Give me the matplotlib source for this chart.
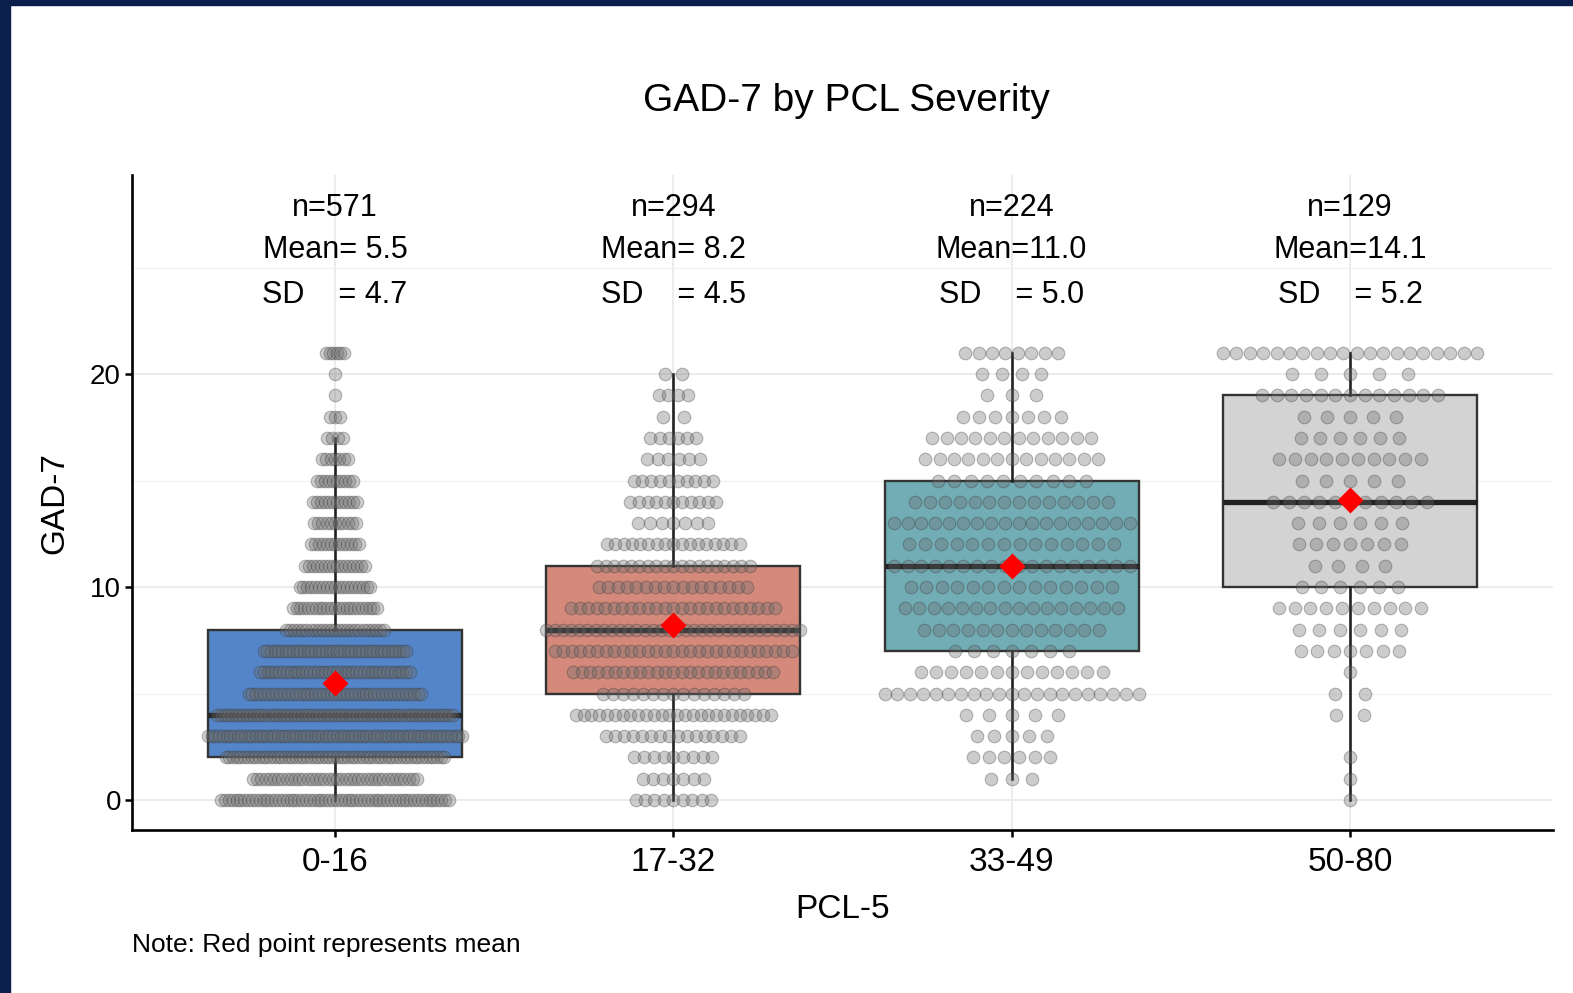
import numpy as np
import matplotlib.pyplot as plt
from matplotlib.patches import Rectangle

plt.rcParams['font.family'] = ['Liberation Sans', 'DejaVu Sans']

# Grupos de severidad PCL-5 y puntajes posibles de GAD-7 (0 a 21)
grupos = ["0-16", "17-32", "33-49", "50-80"]
niveles = np.arange(22)

# Cantidad de participantes en cada puntaje GAD-7, por grupo
conteo_0_16 = [60, 40, 60, 70, 65, 45, 40, 40, 25, 23, 19, 16, 13, 11, 12, 10, 7, 4, 3, 1, 1, 6]
conteo_17_32 = [9, 7, 9, 16, 26, 15, 25, 29, 32, 25, 17, 19, 17, 7, 11, 10, 6, 6, 2, 4, 2, 0]
conteo_33_49 = [0, 3, 6, 5, 5, 21, 13, 7, 13, 16, 14, 18, 14, 18, 14, 10, 13, 12, 7, 3, 4, 8]
conteo_50_80 = [1, 1, 1, 0, 2, 2, 1, 7, 6, 10, 6, 4, 7, 6, 11, 5, 10, 6, 5, 13, 5, 20]
conteos = [conteo_0_16, conteo_17_32, conteo_33_49, conteo_50_80]

# Resumen que se muestra sobre cada caja
n_grupo = [571, 294, 224, 129]
medias = [5.5, 8.2, 11.0, 14.1]
desvios = [4.7, 4.5, 5.0, 5.2]

colores = ['#5385c8', '#d4897b', '#72adb5', '#d3d3d3']

fig = plt.figure(figsize=(15.73, 9.93), dpi=100)
ax = fig.add_axes([132 / 1573, 163 / 993, 1421 / 1573, 655 / 993])

# Marco azul oscuro arriba y a la izquierda
fig.patches.append(Rectangle((0, 1 - 5 / 993), 1, 5 / 993, transform=fig.transFigure,
                             color='#0a1f4b', zorder=10))
fig.patches.append(Rectangle((0, 0), 10 / 1573, 1, transform=fig.transFigure,
                             color='#0a1f4b', zorder=10))

posiciones = np.arange(1, len(grupos) + 1)
datos = [np.repeat(niveles, c) for c in conteos]

cajas = ax.boxplot(datos, positions=posiciones, widths=0.75, patch_artist=True,
                   showfliers=False, showcaps=False, whis=1.5,
                   boxprops=dict(edgecolor='#333333', linewidth=1.7),
                   whiskerprops=dict(color='#222222', linewidth=1.9),
                   medianprops=dict(color='#222222', linewidth=3.8),
                   zorder=2)
for caja, color in zip(cajas['boxes'], colores):
    caja.set_facecolor(color)

# Puntos distribuidos horizontalmente segun la densidad de cada fila
for pos, conteo in zip(posiciones, conteos):
    c = np.array(conteo, dtype=float)
    dens = np.array([np.sum(c * np.exp(-(j - niveles) ** 2 / (2 * 0.5 ** 2))) for j in niveles])
    # en los extremos la fila no pierde ancho por falta de vecinos
    dens[0] = max(dens[0], c[0] * 1.3)
    xs, ys = [], []
    for nivel, k, d in zip(niveles, conteo, dens):
        if k == 0:
            continue
        ancho = 0.375 * min(d / dens.max(), 1.0)
        if k == 1:
            xs.append(pos)
        else:
            xs.extend(pos + np.linspace(-ancho, ancho, k))
        ys.extend([nivel] * k)
    ax.scatter(xs, ys, s=82, facecolor='#6c6c6c', edgecolor='#383838',
               linewidth=0.8, alpha=0.34, zorder=3)

# Media de cada grupo
ax.scatter(posiciones, medias, marker='D', s=175, color='red', linewidth=0, zorder=5)

for pos, n, m, sd in zip(posiciones, n_grupo, medias, desvios):
    ax.text(pos, 27.82, f"n={n}", ha='center', va='center', fontsize=22)
    ax.text(pos, 25.85, f"Mean={m:4.1f}", ha='center', va='center', fontsize=22)
    ax.text(pos, 23.72, f"SD    ={sd:4.1f}", ha='center', va='center', fontsize=22)

ax.set_xlim(0.4, 4.6)
ax.set_ylim(-1.41, 29.35)
ax.set_xticks(posiciones)
ax.set_xticklabels(grupos)
ax.set_yticks([0, 10, 20])
ax.set_yticks([5, 15, 25], minor=True)

ax.grid(which='major', color='#ebebeb', linewidth=1.3, zorder=0)
ax.grid(which='minor', axis='y', color='#f2f2f2', linewidth=0.9, zorder=0)
ax.set_axisbelow(True)

for lado in ['top', 'right']:
    ax.spines[lado].set_visible(False)
for lado in ['left', 'bottom']:
    ax.spines[lado].set_linewidth(1.9)
    ax.spines[lado].set_color('black')

ax.tick_params(axis='x', which='major', length=5, width=1.8, labelsize=24, pad=7)
ax.tick_params(axis='y', which='major', length=5, width=1.8, labelsize=20, pad=3)
ax.tick_params(which='minor', length=0)

fig.text(846 / 1573, 1 - 101 / 993, "GAD-7 by PCL Severity", ha='center', va='center', fontsize=28)
fig.text(843 / 1573, 1 - 909 / 993, "PCL-5", ha='center', va='center', fontsize=24)
fig.text(55 / 1573, 1 - 503 / 993, "GAD-7", ha='center', va='center', fontsize=24, rotation=90)
fig.text(132 / 1573, 1 - 945 / 993, "Note: Red point represents mean", ha='left', va='center', fontsize=19)

fig.savefig('out.png', dpi=100)
